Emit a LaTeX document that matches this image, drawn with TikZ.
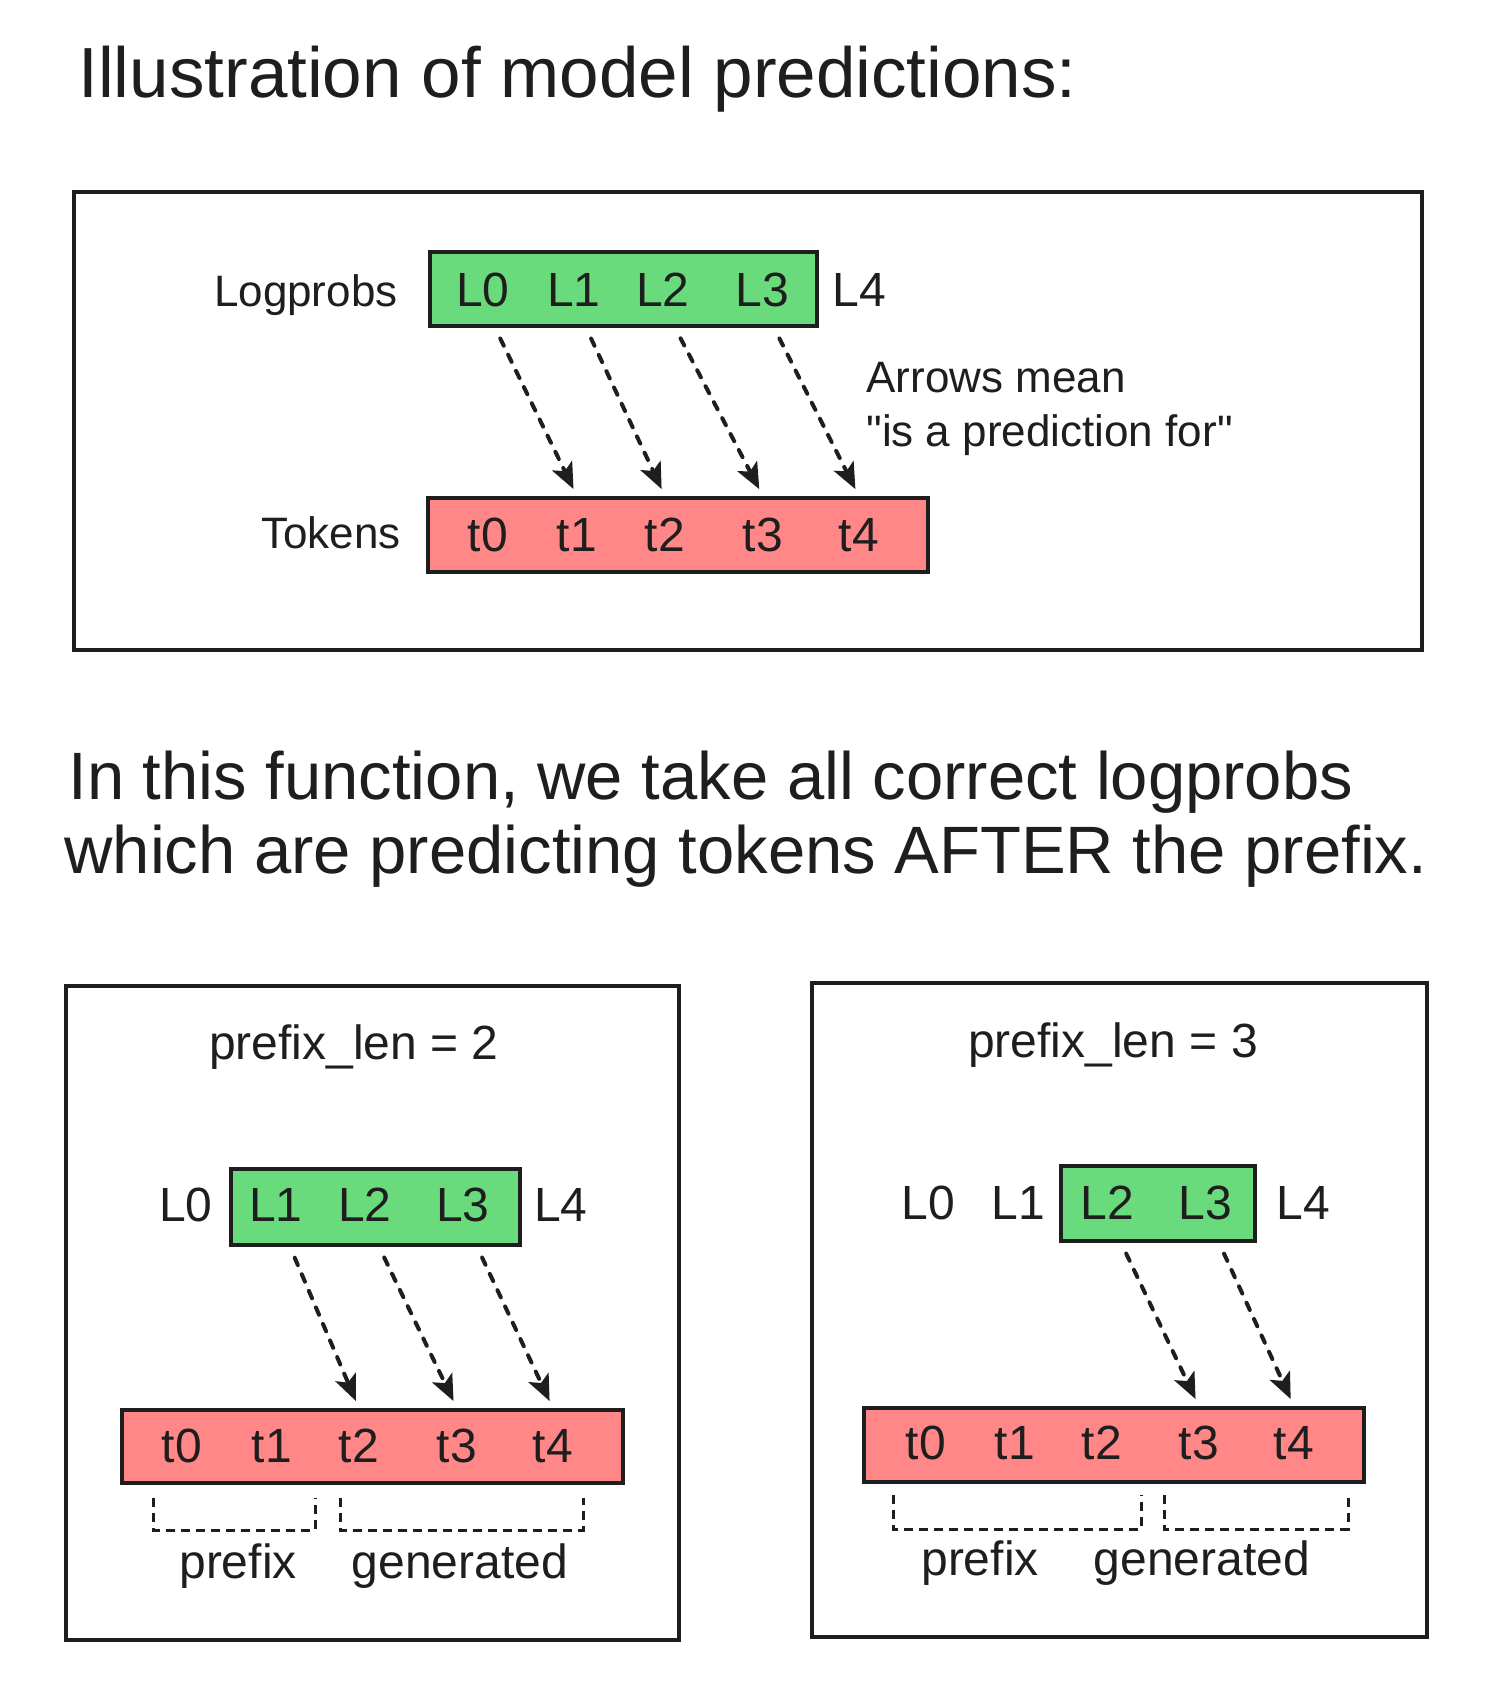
\documentclass[tikz,border=0pt]{standalone}
\usepackage{fontspec}
\setmainfont{Liberation Sans}[Ligatures=TeXOff]
\usetikzlibrary{arrows.meta,calc}
\definecolor{ink}{HTML}{1E1E1E}
\definecolor{lpgreen}{HTML}{69DB7C}
\definecolor{tokred}{HTML}{FF8787}
\tikzset{
  panel/.style ={draw=ink,line width=1.7pt},
  lpbox/.style ={draw=ink,line width=1.7pt,fill=lpgreen,inner sep=0pt},
  tokbox/.style={draw=ink,line width=1.7pt,fill=tokred,inner sep=0pt},
  head/.style  ={text=ink,font=\fontsize{35.5}{40}\selectfont,inner sep=0pt},
  prose/.style ={text=ink,font=\fontsize{33.5}{38}\selectfont,inner sep=0pt},
  val/.style   ={text=ink,font=\fontsize{24}{28}\selectfont,inner sep=0pt},
  lbl/.style   ={text=ink,font=\fontsize{22}{26}\selectfont,inner sep=0pt},
  pred/.style  ={draw=ink,line width=2pt,line cap=round,dash pattern=on 4pt off 5pt,
                 -{Stealth[length=13pt,width=11pt,inset=3pt]},shorten <=6pt,shorten >=4pt},
  brk/.style   ={draw=ink,line width=1.5pt,dash pattern=on 4.5pt off 3pt},
}
\begin{document}
\begin{tikzpicture}[x=0.5pt,y=-0.5pt]
\fill[white] (0,0) rectangle (1491,1698);
\useasboundingbox (0,0) rectangle (1491,1698);

\node[head,anchor=base west] (ttl) at (78,97) {Illustration of model predictions:};

% overview
\draw[panel] (74,192) rectangle (1422,650);
\node[lpbox,minimum width=193.5pt,minimum height=37pt] (lp) at (623.5,289) {};
\node[tokbox,minimum width=250pt,minimum height=37pt] (tk) at (678,535) {};
\node[lbl,anchor=base east] (lplbl) at (398,306) {Logprobs};
\node[lbl,anchor=base east] (tklbl) at (401,548) {Tokens};
\foreach \x [count=\i from 0] in {483,574,663,762,859}
  \node[val] (L\i) at (\x,290) {L\i};
\foreach \x [count=\i from 0] in {488,577,665,763,859}
  \node[val] (t\i) at (\x,535) {t\i};
\foreach \i/\j in {0/1,1/2,2/3,3/4}
  \draw[pred] ($(L\i |- lp.south)+(6pt,0pt)$) -- (t\j |- tk.north);
\node[lbl,anchor=base west] (ann1) at (866,392) {Arrows mean};
\node[lbl,anchor=base west] (ann2) at (866,446) {"is a prediction for"};

\node[prose,anchor=base west] (mid1) at (68,799) {In this function, we take all correct logprobs};
\node[prose,anchor=base west] (mid2) at (64,873) {which are predicting tokens AFTER the prefix.};

% prefix_len = 2
\draw[panel] (66,986) rectangle (679,1640);
\node[val,anchor=base] (alen) at (354,1059) {prefix\_len = 2};
\node[lpbox,minimum width=144.5pt,minimum height=38pt] (alp) at (375.5,1207) {};
\node[tokbox,minimum width=250.5pt,minimum height=36.5pt] (atk) at (372.5,1446.5) {};
\foreach \x [count=\i from 0] in {186,276,365,463,561}
  \node[val] (aL\i) at (\x,1205) {L\i};
\foreach \x [count=\i from 0] in {182,272,359,457,553}
  \node[val] (at\i) at (\x,1446) {t\i};
\foreach \i/\j in {1/2,2/3,3/4}
  \draw[pred] ($(aL\i |- alp.south)+(7pt,0pt)$) -- (at\j |- atk.north);
\draw[brk] (153,1498) |- (315,1530) -- (315,1498);
\draw[brk] (340,1498) |- (583,1530) -- (583,1498);
\node[val,anchor=base] (apre) at (238,1578) {prefix};
\node[val,anchor=base] (agen) at (460,1578) {generated};

% prefix_len = 3
\draw[panel] (812,983) rectangle (1427,1637);
\node[val,anchor=base] (blen) at (1113,1057) {prefix\_len = 3};
\node[lpbox,minimum width=97pt,minimum height=37.5pt] (blp) at (1158,1203.5) {};
\node[tokbox,minimum width=250pt,minimum height=37pt] (btk) at (1114,1445) {};
\foreach \x [count=\i from 0] in {928,1018,1107,1205,1303}
  \node[val] (bL\i) at (\x,1203) {L\i};
\foreach \x [count=\i from 0] in {926,1015,1102,1199,1294}
  \node[val] (bt\i) at (\x,1443) {t\i};
\foreach \i/\j in {2/3,3/4}
  \draw[pred] ($(bL\i |- blp.south)+(7pt,0pt)$) -- (bt\j |- btk.north);
\draw[brk] (893,1495) |- (1141,1529) -- (1141,1495);
\draw[brk] (1164,1495) |- (1348,1529) -- (1348,1495);
\node[val,anchor=base] (bpre) at (980,1575) {prefix};
\node[val,anchor=base] (bgen) at (1202,1575) {generated};
\end{tikzpicture}
\end{document}
